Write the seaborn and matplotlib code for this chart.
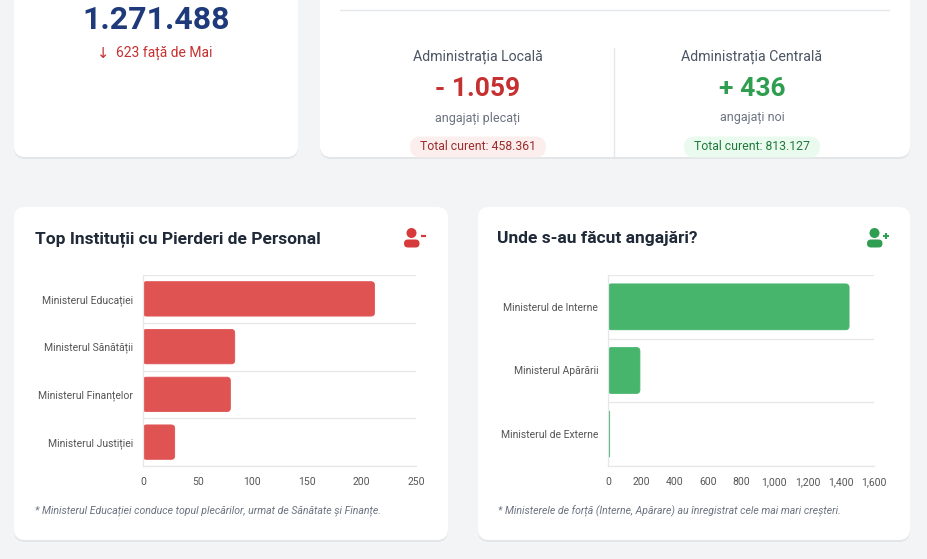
import matplotlib
matplotlib.use('Agg')
import matplotlib.pyplot as plt
from matplotlib.patches import FancyBboxPatch, Circle
from matplotlib.ticker import FuncFormatter
import pandas as pd
import seaborn as sns

# data
total_value = '1.271.488'
total_change = '623 față de Mai'
local_title = 'Administrația Locală'
local_delta = '- 1.059'
local_note = 'angajați plecați'
local_total = 'Total curent: 458.361'
central_title = 'Administrația Centrală'
central_delta = '+ 436'
central_note = 'angajați noi'
central_total = 'Total curent: 813.127'

loss_labels = ['Ministerul Educației', 'Ministerul Sănătății', 'Ministerul Finanțelor', 'Ministerul Justiției']
loss_values = [212, 84, 80, 29]
hire_labels = ['Ministerul de Interne', 'Ministerul Apărării', 'Ministerul de Externe']
hire_values = [1450, 192, 10]

loss_title = 'Top Instituții cu Pierderi de Personal'
hire_title = 'Unde s-au făcut angajări?'
loss_note = '* Ministerul Educației conduce topul plecărilor, urmat de Sănătate și Finanțe.'
hire_note = '* Ministerele de forță (Interne, Apărare) au înregistrat cele mai mari creșteri.'

RED = '#c53030'
GREEN = '#2f9e50'
BAR_RED = '#e05353'
BAR_GREEN = '#48b56c'
GRID = '#e5e7eb'

sns.set_theme(style='white')
plt.rcParams['font.family'] = ['Roboto', 'DejaVu Sans']

W, H = 928, 559
fig = plt.figure(figsize=(W / 100, H / 100), dpi=100, facecolor='#f3f4f6')

# background canvas in pixel coordinates
bg = fig.add_axes([0, 0, 1, 1])
bg.set_xlim(0, W)
bg.set_ylim(H, 0)
bg.axis('off')
bg.set_zorder(0)


def card(x0, y0, x1, y1):
    shadow = FancyBboxPatch((x0, y0 + 2), x1 - x0, y1 - y0, boxstyle='round,pad=0,rounding_size=11',
                            fc='#000000', ec='none', alpha=0.06)
    bg.add_patch(shadow)
    bg.add_patch(FancyBboxPatch((x0, y0), x1 - x0, y1 - y0, boxstyle='round,pad=0,rounding_size=11',
                                fc='white', ec='none'))


def pill(cx, cy, w, h, fc):
    bg.add_patch(FancyBboxPatch((cx - w / 2, cy - h / 2), w, h,
                                boxstyle='round,pad=0,rounding_size=%f' % (h / 2), fc=fc, ec='none'))


def person_icon(x, y, color, sign):
    # simple user +/- glyph drawn with patches
    bg.add_patch(Circle((x + 7.5, y + 5), 5, fc=color, ec='none'))
    bg.add_patch(FancyBboxPatch((x, y + 11.5), 15.5, 8, boxstyle='round,pad=0,rounding_size=4',
                                fc=color, ec='none'))
    if sign == '-':
        bg.plot([x + 17, x + 22.5], [y + 8, y + 8], color=color, lw=1.6, solid_capstyle='butt')
    else:
        bg.plot([x + 16.5, x + 22.5], [y + 7.5, y + 7.5], color=color, lw=1.5, solid_capstyle='butt')
        bg.plot([x + 19.5, x + 19.5], [y + 4.5, y + 10.5], color=color, lw=1.5, solid_capstyle='butt')


card(14, -30, 298, 157)
card(320, -30, 910, 157)
card(14, 207, 448, 540)
card(478, 207, 910, 540)

# top left card
bg.text(156, 20, total_value, color='#1e3a7a', fontsize=23, fontweight='bold', ha='center', va='center')
bg.text(103, 54, '↓', color=RED, fontsize=10.5, ha='center', va='center', family=['DejaVu Sans'])
bg.text(116, 53, total_change, color=RED, fontsize=10, ha='left', va='center')

# top right card
bg.plot([340, 889], [10, 10], color=GRID, lw=1)
bg.plot([614, 614], [48, 157], color=GRID, lw=1)
for cx, title, delta, note, tot, col, pfc, tcol in [
        (478, local_title, local_delta, local_note, local_total, RED, '#fdeeee', '#9b2c2c'),
        (752, central_title, central_delta, central_note, central_total, GREEN, '#ebfaef', '#1e7a3a')]:
    bg.text(cx, 57, title, color='#4b5563', fontsize=10.2, ha='center', va='center')
    bg.text(cx, 89, delta, color=col, fontsize=19, fontweight='bold', ha='center', va='center')
    bg.text(cx, 118, note, color='#6b7280', fontsize=9, ha='center', va='center')
    pill(cx, 147, 136, 21, pfc)
    bg.text(cx, 147, tot, color=tcol, fontsize=8.8, ha='center', va='center')

# chart cards titles
bg.text(35, 239, loss_title, color='#1f2937', fontsize=12.5, fontweight='bold', ha='left', va='center')
bg.text(497, 239, hire_title, color='#1f2937', fontsize=12.5, fontweight='bold', ha='left', va='center')
person_icon(404, 228, '#d63a3a', '-')
person_icon(867, 228, '#2f9e50', '+')
bg.text(35, 511, loss_note, color='#6b7280', fontsize=7.6, style='italic', ha='left', va='center')
bg.text(498, 511, hire_note, color='#6b7280', fontsize=7.6, style='italic', ha='left', va='center')


def bar_chart(rect, labels, values, color, xmax, step, fmt):
    wpx = rect[2] - rect[0]
    hpx = rect[3] - rect[1]
    ax = fig.add_axes([rect[0] / W, 1 - rect[3] / H, wpx / W, hpx / H])
    ax.set_zorder(2)
    df = pd.DataFrame({'inst': labels, 'val': values})
    sns.barplot(data=df, x='val', y='inst', orient='h', color=color, saturation=1,
                width=0.72, ax=ax, linewidth=0)
    # round the bar corners like the web chart
    xpp = xmax / wpx
    ypp = len(labels) / hpx
    for p in list(ax.patches):
        x0, y0, w, h = p.get_x(), p.get_y(), p.get_width(), p.get_height()
        p.remove()
        r = min(3.5, w / xpp / 2)
        ax.add_patch(FancyBboxPatch((x0, y0), w, h, boxstyle='round,pad=0,rounding_size=%f' % (r * xpp),
                                    mutation_aspect=ypp / xpp, fc=color, ec=color, lw=0.6, zorder=2))
    ax.set_facecolor('white')
    ax.set_xlim(0, xmax)
    ax.set_ylim(len(labels) - 0.5, -0.5)
    ax.set_xticks(range(0, xmax + 1, step))
    ax.xaxis.set_major_formatter(FuncFormatter(fmt))
    ax.set_yticks(range(len(labels)), labels)
    ax.set_yticks([i - 0.5 for i in range(len(labels) + 1)], minor=True)
    ax.grid(True, axis='y', which='minor', color=GRID, lw=0.9)
    ax.grid(False, axis='x')
    ax.set_axisbelow(True)
    ax.tick_params(axis='y', which='major', length=0, pad=7, labelsize=7.5, labelcolor='#555555')
    ax.tick_params(axis='y', which='minor', length=6, color=GRID, width=0.9)
    ax.tick_params(axis='x', which='major', length=0, pad=8, labelsize=7.5, labelcolor='#555555')
    for s in ['top', 'right']:
        ax.spines[s].set_visible(False)
    for s in ['left', 'bottom']:
        ax.spines[s].set_color(GRID)
        ax.spines[s].set_linewidth(0.9)
    ax.set_xlabel('')
    ax.set_ylabel('')
    return ax


bar_chart((143, 275, 416, 466), loss_labels, loss_values, BAR_RED, 250, 50, lambda v, p: '%d' % v)
bar_chart((608, 275, 874, 466), hire_labels, hire_values, BAR_GREEN, 1600, 200, lambda v, p: '{:,}'.format(int(v)))

fig.savefig('out.png', dpi=100, facecolor=fig.get_facecolor())
